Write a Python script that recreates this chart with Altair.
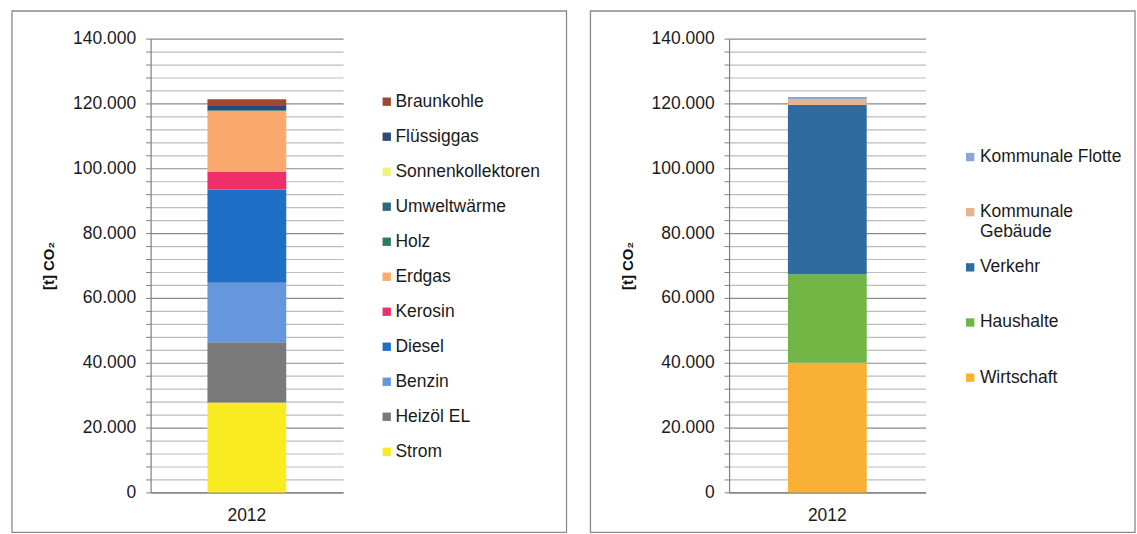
import altair as alt
import pandas as pd

FONT = "Liberation Sans"

years = ["2012"]

# Left panel: CO2 by energy carrier (stack order bottom -> top)
left_cats = ["Strom", "Heizöl EL", "Benzin", "Diesel", "Kerosin", "Erdgas",
             "Holz", "Umweltwärme", "Sonnenkollektoren", "Flüssiggas", "Braunkohle"]
left_vals = [27700, 18650, 18300, 28800, 5550, 18700, 150, 100, 50, 1230, 2070]
left_colors = ["#FAEC22", "#7A7A7A", "#6696DC", "#1F6FC6", "#EE2F6A", "#F9AA6C",
               "#2F7A5A", "#2D6A7D", "#F3EF7C", "#2E4A74", "#9E4A33"]

# Right panel: CO2 by sector (stack order bottom -> top)
right_cats = ["Wirtschaft", "Haushalte", "Verkehr", "Kommunale Gebäude", "Kommunale Flotte"]
right_vals = [40000, 27300, 52200, 1900, 600]
right_colors = ["#F8B134", "#72B545", "#2F6B9E", "#E6B58F", "#8FA4D6"]

y_ticks = list(range(0, 140001, 4000))


def panel(cats, vals, colors, width, legend_x, legend_y, label_offset,
          row_padding, border_left, border_right, grid_align="each"):
    df = pd.DataFrame({
        "Jahr": years * len(cats),
        "Kategorie": cats,
        "Wert": vals,
        "Ordnung": list(range(len(cats))),
    })
    legend = alt.Legend(
        orient="none", legendX=legend_x, legendY=legend_y, title=None,
        symbolType="square", symbolSize=70, symbolStrokeWidth=0,
        labelFont=FONT, labelFontSize=17.5, labelColor="#1a1a1a",
        labelOffset=label_offset, rowPadding=row_padding, padding=0,
        gridAlign=grid_align, labelLimit=300,
        labelExpr="datum.label == 'Kommunale Gebäude' ? ['Kommunale', 'Gebäude'] : datum.label",
    )
    yaxis = alt.Axis(
        values=y_ticks, title="[t] CO₂", titleFont=FONT, titleFontSize=15,
        titleFontWeight="bold", titleColor="#111", titlePadding=16,
        labelExpr="datum.value % 20000 == 0 ? replace(format(datum.value, ','), ',', '.') : ''",
        labelFont=FONT, labelFontSize=17.5, labelColor="#1a1a1a",
        labelPadding=10, labelOverlap=False, tickSize=5, tickColor="#808080",
        domainColor="#808080", domainWidth=1.2,
        gridColor={"condition": {"test": "datum.value % 20000 === 0", "value": "#8a8a8a"},
                   "value": "#bdbdbd"},
        gridWidth=1.2,
    )
    xaxis = alt.Axis(
        title=None, labelAngle=0, labelFont=FONT, labelFontSize=17.5,
        labelColor="#1a1a1a", labelPadding=14, ticks=False, tickSize=0,
        domainColor="#808080", domainWidth=1.2,
    )
    bars = alt.Chart(df).mark_bar(size=79).encode(
        x=alt.X("Jahr:N", axis=xaxis),
        y=alt.Y("Wert:Q", stack="zero",
                scale=alt.Scale(domain=[0, 140000], nice=False), axis=yaxis),
        color=alt.Color("Kategorie:N",
                        scale=alt.Scale(domain=cats[::-1], range=colors[::-1]),
                        legend=legend),
        order=alt.Order("Ordnung:Q", sort="ascending"),
    )
    border = alt.Chart(pd.DataFrame({"r": [0]})).mark_rect(
        fillOpacity=0, stroke="#8a8a8a", strokeWidth=1.3
    ).encode(
        x=alt.value(border_left), x2=alt.value(border_right),
        y=alt.value(-27.7), y2=alt.value(495),
    )
    return alt.layer(border, bars).properties(width=width, height=455)


left = panel(left_cats, left_vals, left_colors, 193,
             legend_x=228, legend_y=54.5, label_offset=0, row_padding=16.1,
             border_left=-139, border_right=417)
right = panel(right_cats, right_vals, right_colors, 197,
              legend_x=233, legend_y=110, label_offset=1, row_padding=17.3,
              border_left=-139, border_right=407, grid_align="all")

chart = alt.hconcat(left, right, spacing=20).resolve_scale(
    color="independent"
).resolve_legend(
    color="independent"
).properties(
    padding={"left": 10, "top": 9, "right": 0, "bottom": 0},
    background="white",
).configure_view(stroke="transparent")

chart.save("out.html", embed_options={"renderer": "svg", "actions": False})
